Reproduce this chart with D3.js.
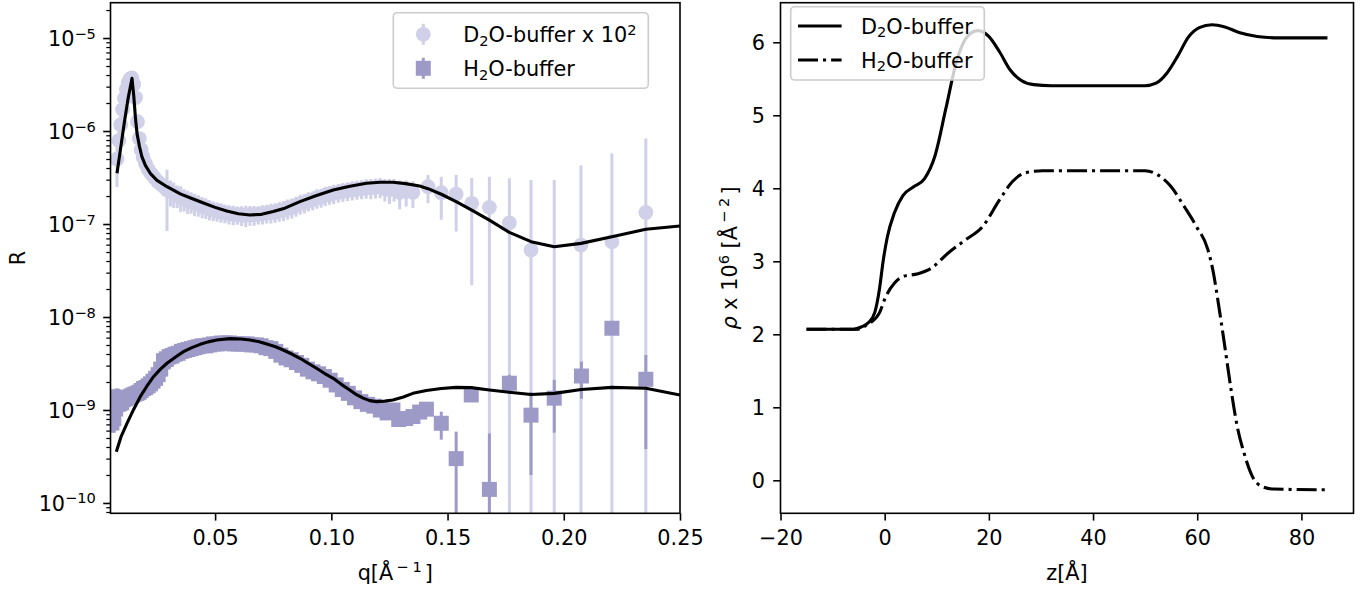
<!DOCTYPE html>
<html>
<head>
<meta charset="utf-8">
<script src="https://cdn.jsdelivr.net/npm/d3@7"></script>
<style>
  html, body { margin: 0; padding: 0; background: #fff; }
  svg { display: block; }
</style>
</head>
<body>
<svg id="chart" width="1369" height="590"></svg>
<script>
/* reflectivity data, q in 1/Å, R raw (D2O is drawn x 10^2) */
const d2oQ = [
  0.0078, 0.0086, 0.0094, 0.0102, 0.0110, 0.0118, 0.0126, 0.0134, 0.0142, 0.0150,
  0.0158, 0.0166, 0.0174, 0.0182, 0.0190, 0.0200, 0.0212, 0.0225, 0.0238, 0.0252,
  0.0266, 0.0280, 0.0293, 0.0308, 0.0322, 0.0337, 0.0352, 0.0367, 0.0382, 0.0397,
  0.0412, 0.0428, 0.0444, 0.0460, 0.0476, 0.0492, 0.0508, 0.0525, 0.0542, 0.0560,
  0.0578, 0.0596, 0.0614, 0.0632, 0.0650, 0.0668, 0.0686, 0.0704, 0.0722, 0.0740,
  0.0758, 0.0776, 0.0794, 0.0812, 0.0830, 0.0848, 0.0866, 0.0884, 0.0902, 0.0920,
  0.0938, 0.0956, 0.0974, 0.0992, 0.1010, 0.1030, 0.1050, 0.1070, 0.1090, 0.1110,
  0.1130, 0.1150, 0.1170, 0.1190, 0.1210, 0.1230, 0.1250, 0.1270, 0.1294, 0.1322,
  0.1351, 0.1416, 0.1473, 0.1537, 0.1604, 0.1680, 0.1766, 0.1859, 0.1959, 0.2074,
  0.2207, 0.2353
];
const d2oR = [
  5.0e-9, 7.9e-9, 1.17e-8, 1.70e-8, 2.24e-8, 2.82e-8, 3.31e-8, 3.63e-8, 3.72e-8, 3.16e-8,
  2.29e-8, 1.26e-8, 8.3e-9, 6.3e-9, 5.25e-9, 4.47e-9, 3.89e-9, 3.47e-9, 3.16e-9, 2.88e-9,
  2.69e-9, 2.51e-9, 2.34e-9, 2.24e-9, 2.14e-9, 2.04e-9, 1.95e-9, 1.86e-9, 1.78e-9, 1.74e-9,
  1.66e-9, 1.62e-9, 1.55e-9, 1.51e-9, 1.45e-9, 1.41e-9, 1.38e-9, 1.35e-9, 1.32e-9, 1.29e-9,
  1.27e-9, 1.26e-9, 1.25e-9, 1.25e-9, 1.26e-9, 1.26e-9, 1.27e-9, 1.29e-9, 1.31e-9, 1.33e-9,
  1.35e-9, 1.39e-9, 1.42e-9, 1.48e-9, 1.51e-9, 1.58e-9, 1.66e-9, 1.70e-9, 1.78e-9, 1.82e-9,
  1.91e-9, 1.95e-9, 2.04e-9, 2.09e-9, 2.14e-9, 2.19e-9, 2.24e-9, 2.29e-9, 2.34e-9, 2.37e-9,
  2.40e-9, 2.45e-9, 2.45e-9, 2.48e-9, 2.51e-9, 2.40e-9, 2.34e-9, 2.40e-9, 2.19e-9, 2.24e-9,
  2.19e-9, 2.52e-9, 2.17e-9, 2.10e-9, 1.67e-9, 1.51e-9, 1.03e-9, 5.25e-10, -1.0e-9, 5.94e-10,
  6.46e-10, 1.33e-9
];
const d2oErr = [
  2.5e-9, 2.5e-9, 3.0e-9, 3.5e-9, 4.0e-9, 4.5e-9, 5.0e-9, 5.0e-9, 5.0e-9, 5.0e-9,
  4.0e-9, 2.5e-9, 1.5e-9, 1.0e-9, 0.8e-9, 0.7e-9, 0.6e-9, 0.55e-9, 0.5e-9, 0.5e-9,
  0.5e-9, 0.5e-9, 1.5e-9, 0.7e-9, 0.65e-9, 0.55e-9, 0.6e-9, 0.5e-9, 0.5e-9, 0.45e-9,
  0.45e-9, 0.42e-9, 0.4e-9, 0.38e-9, 0.36e-9, 0.34e-9, 0.32e-9, 0.32e-9, 0.3e-9, 0.3e-9,
  0.3e-9, 0.28e-9, 0.3e-9, 0.32e-9, 0.3e-9, 0.3e-9, 0.28e-9, 0.3e-9, 0.3e-9, 0.32e-9,
  0.32e-9, 0.33e-9, 0.35e-9, 0.36e-9, 0.37e-9, 0.38e-9, 0.4e-9, 0.4e-9, 0.42e-9, 0.42e-9,
  0.45e-9, 0.45e-9, 0.48e-9, 0.48e-9, 0.5e-9, 0.5e-9, 0.52e-9, 0.52e-9, 0.55e-9, 0.55e-9,
  0.55e-9, 0.58e-9, 0.6e-9, 0.6e-9, 0.62e-9, 0.65e-9, 0.7e-9, 0.65e-9, 0.75e-9, 0.7e-9,
  0.7e-9, 0.85e-9, 1.06e-9, 1.27e-9, 1.45e-9, 1.72e-9, 2.07e-9, 2.45e-9, 3.97e-9, 3.7e-9,
  5.1e-9, 7.0e-9
];
const d2oScale = 1e2;

const h2oQ = [
  0.0058, 0.0066, 0.0074, 0.0082, 0.0090, 0.0098, 0.0106, 0.0114, 0.0122, 0.0130,
  0.0138, 0.0146, 0.0155, 0.0164, 0.0173, 0.0182, 0.0192, 0.0202, 0.0212, 0.0222,
  0.0233, 0.0244, 0.0255, 0.0266, 0.0278, 0.0290, 0.0302, 0.0315, 0.0328, 0.0341,
  0.0355, 0.0369, 0.0383, 0.0398, 0.0413, 0.0428, 0.0444, 0.0460, 0.0476, 0.0493,
  0.0510, 0.0527, 0.0545, 0.0563, 0.0581, 0.0600, 0.0619, 0.0638, 0.0658, 0.0678,
  0.0698, 0.0719, 0.0740, 0.0761, 0.0783, 0.0805, 0.0827, 0.0850, 0.0873, 0.0897,
  0.0921, 0.0945, 0.0970, 0.0995, 0.1021, 0.1047, 0.1073, 0.1100, 0.1127, 0.1155,
  0.1183, 0.1211, 0.1240, 0.1265, 0.1290, 0.1320, 0.1351, 0.1380, 0.1409, 0.1473,
  0.1537, 0.1602, 0.1680, 0.1766, 0.1859, 0.1959, 0.2076, 0.2207, 0.2353
];
const h2oR = [
  1.12e-9, 1.12e-9, 1.15e-9, 1.15e-9, 1.17e-9, 1.20e-9, 1.29e-9, 1.32e-9, 1.35e-9, 1.38e-9,
  1.41e-9, 1.45e-9, 1.48e-9, 1.51e-9, 1.55e-9, 1.62e-9, 1.70e-9, 1.74e-9, 1.82e-9, 1.91e-9,
  2.04e-9, 2.19e-9, 2.40e-9, 2.75e-9, 3.39e-9, 3.55e-9, 3.72e-9, 3.80e-9, 3.98e-9, 4.07e-9,
  4.27e-9, 4.37e-9, 4.47e-9, 4.57e-9, 4.68e-9, 4.79e-9, 4.90e-9, 4.90e-9, 5.01e-9, 5.13e-9,
  5.13e-9, 5.25e-9, 5.25e-9, 5.25e-9, 5.13e-9, 5.13e-9, 5.13e-9, 5.13e-9, 5.01e-9, 5.01e-9,
  4.90e-9, 4.68e-9, 4.57e-9, 4.27e-9, 3.89e-9, 3.63e-9, 3.47e-9, 3.24e-9, 3.02e-9, 2.75e-9,
  2.57e-9, 2.45e-9, 2.29e-9, 2.09e-9, 1.86e-9, 1.66e-9, 1.51e-9, 1.35e-9, 1.23e-9, 1.15e-9,
  1.10e-9, 1.00e-9, 0.93e-9, 1.00e-9, 0.79e-9, 0.81e-9, 0.85e-9, 0.95e-9, 1.02e-9, 0.72e-9,
  3.0e-10, 1.45e-9, 1.40e-10, 1.94e-9, 8.8e-10, 1.34e-9, 2.32e-9, 7.57e-9, 2.14e-9
];
const h2oErr = [
  0.55e-9, 0.55e-9, 0.55e-9, 0.55e-9, 0.5e-9, 0.35e-9, 0.18e-9, 0.18e-9, 0.17e-9, 0.17e-9,
  0.17e-9, 0.2e-9, 0.22e-9, 0.25e-9, 0.25e-9, 0.28e-9, 0.3e-9, 0.3e-9, 0.3e-9, 0.32e-9,
  0.35e-9, 0.35e-9, 0.4e-9, 0.6e-9, 1.1e-9, 1.1e-9, 1.0e-9, 0.9e-9, 0.8e-9, 0.7e-9,
  0.6e-9, 0.5e-9, 0.45e-9, 0.4e-9, 0.35e-9, 0.3e-9, 0.3e-9, 0.3e-9, 0.3e-9, 0.3e-9,
  0.3e-9, 0.3e-9, 0.3e-9, 0.3e-9, 0.3e-9, 0.3e-9, 0.3e-9, 0.3e-9, 0.3e-9, 0.3e-9,
  0.3e-9, 0.3e-9, 0.3e-9, 0.3e-9, 0.3e-9, 0.28e-9, 0.26e-9, 0.25e-9, 0.24e-9, 0.23e-9,
  0.22e-9, 0.22e-9, 0.2e-9, 0.2e-9, 0.18e-9, 0.16e-9, 0.15e-9, 0.14e-9, 0.13e-9, 0.12e-9,
  0.12e-9, 0.12e-9, 0.12e-9, 0.12e-9, 0.1e-9, 0.1e-9, 0.1e-9, 0.12e-9, 0.15e-9, 0.24e-9,
  2.85e-10, 1.5e-10, 4.2e-10, 4.5e-10, 6.8e-10, 7.7e-10, 1.0e-9, 5.0e-10, 1.76e-9
];

/* fitted model curves */
const d2oFitQ = [
  0.0078, 0.0095, 0.0110, 0.0125, 0.01425, 0.0150, 0.0157, 0.0164, 0.0175, 0.0185,
  0.0200, 0.0221, 0.0250, 0.0293, 0.0350, 0.0400, 0.0450, 0.0500, 0.0550, 0.0600,
  0.0650, 0.0700, 0.0750, 0.0800, 0.0865, 0.0930, 0.1008, 0.1080, 0.1151, 0.1210,
  0.1265, 0.1320, 0.1380, 0.1416, 0.1473, 0.1537, 0.1604, 0.1680, 0.1766, 0.1859,
  0.1959, 0.2074, 0.2207, 0.2353, 0.2500
];
const d2oFitR = [
  3.51e-9, 6.92e-9, 1.26e-8, 2.19e-8, 3.69e-8, 2.40e-8, 1.41e-8, 9.44e-9, 6.76e-9, 5.30e-9,
  4.27e-9, 3.51e-9, 2.95e-9, 2.52e-9, 2.11e-9, 1.88e-9, 1.68e-9, 1.51e-9, 1.38e-9, 1.29e-9,
  1.25e-9, 1.27e-9, 1.36e-9, 1.48e-9, 1.74e-9, 2.00e-9, 2.32e-9, 2.55e-9, 2.74e-9, 2.81e-9,
  2.81e-9, 2.72e-9, 2.56e-9, 2.40e-9, 2.09e-9, 1.74e-9, 1.41e-9, 1.10e-9, 8.13e-10, 6.46e-10,
  5.70e-10, 6.19e-10, 7.29e-10, 8.77e-10, 9.51e-10
];
const h2oFitQ = [
  0.0075, 0.0095, 0.0121, 0.0150, 0.0178, 0.0205, 0.0235, 0.0265, 0.0293, 0.0330,
  0.0364, 0.0400, 0.0436, 0.0470, 0.0507, 0.0564, 0.0610, 0.0650, 0.0690, 0.0722,
  0.0760, 0.0793, 0.0830, 0.0865, 0.0900, 0.0936, 0.0970, 0.1008, 0.1040, 0.1079,
  0.1110, 0.1137, 0.1165, 0.1194, 0.1230, 0.1265, 0.1310, 0.1351, 0.1409, 0.1473,
  0.1537, 0.1602, 0.1680, 0.1766, 0.1859, 0.1959, 0.2076, 0.2207, 0.2353, 0.2500
];
const h2oFitR = [
  3.56e-10, 5.13e-10, 7.19e-10, 1.02e-9, 1.39e-9, 1.78e-9, 2.28e-9, 2.75e-9, 3.18e-9, 3.72e-9,
  4.24e-9, 4.68e-9, 5.08e-9, 5.40e-9, 5.66e-9, 5.85e-9, 5.79e-9, 5.66e-9, 5.42e-9, 5.13e-9,
  4.79e-9, 4.42e-9, 4.00e-9, 3.60e-9, 3.18e-9, 2.81e-9, 2.48e-9, 2.19e-9, 1.91e-9, 1.64e-9,
  1.45e-9, 1.34e-9, 1.26e-9, 1.23e-9, 1.245e-9, 1.28e-9, 1.38e-9, 1.51e-9, 1.62e-9, 1.70e-9,
  1.75e-9, 1.74e-9, 1.64e-9, 1.55e-9, 1.47e-9, 1.51e-9, 1.66e-9, 1.75e-9, 1.71e-9, 1.45e-9
];

/* SLD profiles, z in Å, rho x 10^6 */
const d2oSldZ = [
  -15, -6, -4.5, -3.1, -1.9, -1.0, -0.3, 0.5, 1.85, 3.5,
  5.56, 7.62, 9.68, 11.74, 13.8, 15.86, 17.92, 19.98, 22.04, 24.1,
  26.15, 28.6, 32, 50, 52.1, 54.2, 56.25, 58.3, 60.4, 62.85,
  65.3, 68.2, 71.5, 75.6, 85
];
const d2oSldRho = [
  2.07, 2.07, 2.10, 2.16, 2.30, 2.62, 3.0, 3.33, 3.66, 3.90,
  4.02, 4.13, 4.45, 5.09, 5.74, 6.08, 6.16, 6.08, 5.87, 5.62,
  5.48, 5.42, 5.405, 5.405, 5.44, 5.58, 5.81, 6.07, 6.20, 6.24,
  6.21, 6.13, 6.08, 6.06, 6.06
];
const h2oSldZ = [
  -15, -5, -3.5, -1.03, 0.2, 1.85, 3.5, 6.38, 8.85, 12.14,
  15.44, 18.74, 22.04, 24.5, 26.97, 30.3, 50, 52.5, 55, 57.5,
  59.9, 62.0, 63.0, 64.0, 65.3, 66.5, 67.7, 69.0, 70.6, 72.3,
  74.75, 85
];
const h2oSldRho = [
  2.07, 2.07, 2.127, 2.29, 2.515, 2.70, 2.79, 2.83, 2.90, 3.11,
  3.29, 3.47, 3.84, 4.09, 4.21, 4.24, 4.24, 4.18, 4.02, 3.75,
  3.47, 3.17, 2.88, 2.45, 1.83, 1.24, 0.73, 0.37, 0.05, -0.08,
  -0.12, -0.13
];

/* tick labels */
const qTicks = [0.05, 0.10, 0.15, 0.20, 0.25];
const rDecades = [-10, -9, -8, -7, -6, -5];
const zTicks = [-20, 0, 20, 40, 60, 80];
const rhoTicks = [0, 1, 2, 3, 4, 5, 6];

// styles
const fontFamily = '"DejaVu Sans", "Liberation Sans", sans-serif';
const fontSize = 20.8;
const supSize = 14.6;
const lightPurple = "#d0d0e8";
const darkPurple = "#9e9ac8";
const lineW = 3.1;

const svg = d3.select("#chart").attr("font-family", fontFamily);

// axes boxes in px
const leftBox = { x0: 110.5, x1: 680, y0: 2.7, y1: 513.3 };
const rightBox = { x0: 780.5, x1: 1353.5, y0: 2.7, y1: 513.3 };

const qScale = d3.scaleLinear().domain([0.005, 0.25]).range([leftBox.x0, leftBox.x1]);
const rScale = d3.scaleLog()
  .domain([Math.pow(10, -10.111), Math.pow(10, -4.62)])
  .range([leftBox.y1, leftBox.y0]);
const zScale = d3.scaleLinear().domain([-20, 90]).range([rightBox.x0, rightBox.x1]);
const rhoScale = d3.scaleLinear().domain([-0.452, 6.542]).range([rightBox.y1, rightBox.y0]);

/* clip paths for both axes */
const defs = svg.append("defs");
[["clip-left", leftBox], ["clip-right", rightBox]].forEach(([id, b]) => {
  defs.append("clipPath").attr("id", id)
    .append("rect")
    .attr("x", b.x0).attr("y", b.y0)
    .attr("width", b.x1 - b.x0).attr("height", b.y1 - b.y0);
});

/* append tspans with sub / superscripts to a text element */
function addRich(textSel, parts) {
  let shift = 0;
  parts.forEach(([str, kind, extra]) => {
    const target = kind === "sub" ? 3.5 : kind === "sup" ? -7.6 : 0;
    const t = textSel.append("tspan")
      .attr("dy", target - shift)
      .attr("font-size", kind === "base" ? fontSize : supSize)
      .text(str);
    if (extra && extra.dx) t.attr("dx", extra.dx);
    if (extra && extra.italic) t.attr("font-style", "italic");
    shift = target;
  });
}

/* clean up a d3 axis to look like matplotlib ticks */
function styleAxis(g) {
  g.select(".domain").remove();
  g.selectAll(".tick line").attr("stroke", "#000").attr("stroke-width", 1.6);
  g.selectAll(".tick text")
    .attr("font-size", fontSize)
    .attr("font-family", fontFamily)
    .attr("fill", "#000");
}

function drawSpines(g, b) {
  g.append("rect")
    .attr("x", b.x0).attr("y", b.y0)
    .attr("width", b.x1 - b.x0).attr("height", b.y1 - b.y0)
    .attr("fill", "none").attr("stroke", "#000").attr("stroke-width", 1.6);
}

/* error bars then markers, like plt.errorbar */
function drawErrorSeries(g, qs, rs, errs, scale, color, shape) {
  const yFloor = rScale.domain()[0] * 0.5;
  const pts = qs.map((q, i) => ({ q: q, r: rs[i] * scale, e: errs[i] * scale }));
  g.append("g").selectAll("line")
    .data(pts)
    .join("line")
    .attr("x1", (d) => qScale(d.q))
    .attr("x2", (d) => qScale(d.q))
    .attr("y1", (d) => rScale(Math.max(d.r - d.e, yFloor)))
    .attr("y2", (d) => rScale(d.r + d.e))
    .attr("stroke", color)
    .attr("stroke-width", 3);
  const visible = pts.filter((d) => d.r > 0);
  if (shape === "circle") {
    g.append("g").selectAll("circle")
      .data(visible)
      .join("circle")
      .attr("cx", (d) => qScale(d.q))
      .attr("cy", (d) => rScale(d.r))
      .attr("r", 7.4)
      .attr("fill", color);
  } else {
    g.append("g").selectAll("rect")
      .data(visible)
      .join("rect")
      .attr("x", (d) => qScale(d.q) - 7.5)
      .attr("y", (d) => rScale(d.r) - 7.5)
      .attr("width", 15)
      .attr("height", 15)
      .attr("fill", color);
  }
}

/* ---------- left panel: reflectivity ---------- */
const leftG = svg.append("g");
const plotL = leftG.append("g").attr("clip-path", "url(#clip-left)");

drawErrorSeries(plotL, d2oQ, d2oR, d2oErr, d2oScale, lightPurple, "circle");
drawErrorSeries(plotL, h2oQ, h2oR, h2oErr, 1, darkPurple, "square");

const fitLine = (scale) => d3.line()
  .x((d) => qScale(d[0]))
  .y((d) => rScale(d[1] * scale));

plotL.append("path")
  .datum(d2oFitQ.map((q, i) => [q, d2oFitR[i]]))
  .attr("d", fitLine(d2oScale))
  .attr("fill", "none").attr("stroke", "#000").attr("stroke-width", lineW)
  .attr("stroke-linejoin", "round");
plotL.append("path")
  .datum(h2oFitQ.map((q, i) => [q, h2oFitR[i]]))
  .attr("d", fitLine(1))
  .attr("fill", "none").attr("stroke", "#000").attr("stroke-width", lineW)
  .attr("stroke-linejoin", "round");

// x axis
leftG.append("g")
  .attr("transform", `translate(0,${leftBox.y1})`)
  .call(d3.axisBottom(qScale).tickValues(qTicks).tickFormat(d3.format(".2f"))
    .tickSize(7.3).tickPadding(9.6).tickSizeOuter(0))
  .call(styleAxis);

// log y axis, minor ticks first
const minorR = rScale.ticks().filter((v) => {
  const l = Math.log10(v);
  return Math.abs(l - Math.round(l)) > 1e-6;
});
leftG.append("g")
  .attr("transform", `translate(${leftBox.x0},0)`)
  .call(d3.axisLeft(rScale).tickValues(minorR).tickFormat(() => "").tickSize(4.2).tickSizeOuter(0))
  .call(styleAxis)
  .selectAll(".tick line").attr("stroke-width", 1.25);

leftG.append("g")
  .attr("transform", `translate(${leftBox.x0},0)`)
  .call(d3.axisLeft(rScale).tickValues(rDecades.map((e) => Math.pow(10, e)))
    .tickFormat(() => "").tickSize(7.3).tickSizeOuter(0))
  .call(styleAxis)
  .selectAll(".tick")
  .each(function (d) {
    const exp = Math.round(Math.log10(d));
    const label = d3.select(this).select("text")
      .attr("x", -14.6).attr("y", 7.4).attr("dy", 0)
      .text("10");
    label.append("tspan")
      .attr("dy", -7.4)
      .attr("font-size", supSize)
      .text("\u2212" + Math.abs(exp));
  });

drawSpines(leftG, leftBox);

// axis labels
addRich(leftG.append("text")
  .attr("x", (leftBox.x0 + leftBox.x1) / 2).attr("y", 580)
  .attr("text-anchor", "middle").attr("font-size", fontSize),
  [["q[Å", "base"], ["\u2212", "sup", { dx: 3 }], ["1", "sup", { dx: 4 }], ["]", "base", { dx: 3 }]]);

leftG.append("text")
  .attr("transform", `translate(25,${(leftBox.y0 + leftBox.y1) / 2}) rotate(-90)`)
  .attr("text-anchor", "middle").attr("font-size", fontSize)
  .text("R");

// legend
const legL = leftG.append("g");
legL.append("rect")
  .attr("x", 393.3).attr("y", 12.7).attr("width", 255).attr("height", 75.6).attr("rx", 4)
  .attr("fill", "#fff").attr("fill-opacity", 0.8)
  .attr("stroke", "#cccccc").attr("stroke-width", 1.6);
const legLItems = [
  { y: 34.3, color: lightPurple, shape: "circle",
    parts: [["D", "base"], ["2", "sub"], ["O-buffer x 10", "base"], ["2", "sup"]] },
  { y: 68.3, color: darkPurple, shape: "square",
    parts: [["H", "base"], ["2", "sub"], ["O-buffer", "base"]] }
];
legLItems.forEach((it) => {
  legL.append("line")
    .attr("x1", 423.3).attr("x2", 423.3)
    .attr("y1", it.y - 10.5).attr("y2", it.y + 10.5)
    .attr("stroke", it.color).attr("stroke-width", 3);
  if (it.shape === "circle") {
    legL.append("circle").attr("cx", 423.3).attr("cy", it.y).attr("r", 7.4).attr("fill", it.color);
  } else {
    legL.append("rect").attr("x", 415.8).attr("y", it.y - 7.5)
      .attr("width", 15).attr("height", 15).attr("fill", it.color);
  }
  addRich(legL.append("text").attr("x", 463.3).attr("y", it.y + 7.9).attr("font-size", fontSize),
    it.parts);
});

/* ---------- right panel: SLD profiles ---------- */
const rightG = svg.append("g");
const plotR = rightG.append("g").attr("clip-path", "url(#clip-right)");

const sldLine = d3.line()
  .x((d) => zScale(d[0]))
  .y((d) => rhoScale(d[1]))
  .curve(d3.curveMonotoneX);

plotR.append("path")
  .datum(d2oSldZ.map((z, i) => [z, d2oSldRho[i]]))
  .attr("d", sldLine)
  .attr("fill", "none").attr("stroke", "#000").attr("stroke-width", lineW);
plotR.append("path")
  .datum(h2oSldZ.map((z, i) => [z, h2oSldRho[i]]))
  .attr("d", sldLine)
  .attr("fill", "none").attr("stroke", "#000").attr("stroke-width", lineW)
  .attr("stroke-dasharray", "20,5,3.1,5");

rightG.append("g")
  .attr("transform", `translate(0,${rightBox.y1})`)
  .call(d3.axisBottom(zScale).tickValues(zTicks).tickFormat(d3.format("d"))
    .tickSize(7.3).tickPadding(9.6).tickSizeOuter(0))
  .call(styleAxis);

rightG.append("g")
  .attr("transform", `translate(${rightBox.x0},0)`)
  .call(d3.axisLeft(rhoScale).tickValues(rhoTicks).tickFormat(d3.format("d"))
    .tickSize(7.3).tickPadding(8.2).tickSizeOuter(0))
  .call(styleAxis)
  .selectAll(".tick text").attr("dy", "0.365em");

drawSpines(rightG, rightBox);

rightG.append("text")
  .attr("x", (rightBox.x0 + rightBox.x1) / 2).attr("y", 580)
  .attr("text-anchor", "middle").attr("font-size", fontSize)
  .text("z[Å]");

addRich(rightG.append("text")
  .attr("transform", `translate(737,${(rightBox.y0 + rightBox.y1) / 2}) rotate(-90)`)
  .attr("text-anchor", "middle").attr("font-size", fontSize),
  [["\u03c1", "base", { italic: true }], [" x 10", "base"], ["6", "sup"], [" [Å", "base"],
   ["\u2212", "sup", { dx: 3 }], ["2", "sup", { dx: 4 }], ["]", "base", { dx: 3 }]]);

// legend
const legR = rightG.append("g");
legR.append("rect")
  .attr("x", 790.7).attr("y", 6.7).attr("width", 193.6).attr("height", 73.3).attr("rx", 4)
  .attr("fill", "#fff").attr("fill-opacity", 0.8)
  .attr("stroke", "#cccccc").attr("stroke-width", 1.6);
const legRItems = [
  { y: 26, dash: null, parts: [["D", "base"], ["2", "sub"], ["O-buffer", "base"]] },
  { y: 60, dash: "20,5,3.1,5", parts: [["H", "base"], ["2", "sub"], ["O-buffer", "base"]] }
];
legRItems.forEach((it) => {
  const l = legR.append("line")
    .attr("x1", 798).attr("x2", 841.6)
    .attr("y1", it.y).attr("y2", it.y)
    .attr("stroke", "#000").attr("stroke-width", lineW);
  if (it.dash) l.attr("stroke-dasharray", it.dash);
  addRich(legR.append("text").attr("x", 861).attr("y", it.y + 7.5).attr("font-size", fontSize),
    it.parts);
});
</script>
</body>
</html>
